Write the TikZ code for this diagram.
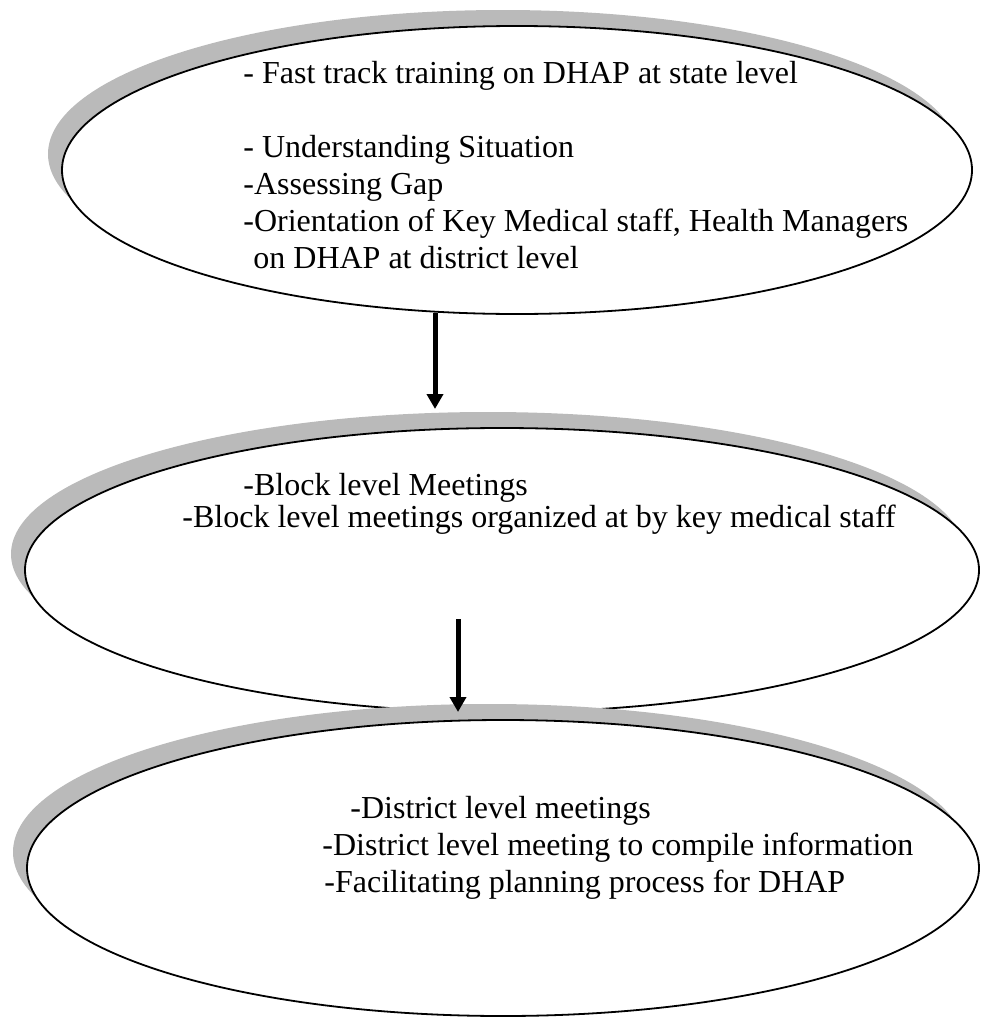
\documentclass[tikz,border=0pt]{standalone}
\usepackage{fontspec}
\setmainfont{Liberation Serif}
\usetikzlibrary{shapes.geometric,shadows,arrows.meta}
\tikzset{
  stage/.style={ellipse,draw,line width=0.9pt,fill=white,inner sep=0pt,
    drop shadow={shadow xshift=-7pt,shadow yshift=8pt,fill=black!27,opacity=1}},
  note/.style={anchor=base west,align=left,inner sep=0pt,
    font=\fontsize{16pt}{18.4pt}\selectfont},
  flow/.style={line width=2.5pt,-{Triangle[width=8pt,length=7.5pt]}}
}
\begin{document}
\begin{tikzpicture}[x=0.5pt,y=-0.5pt]
  \useasboundingbox (0,0) rectangle (980,1017);
  % the three stages
  \node[stage,minimum width=455pt,minimum height=144pt] (e1) at (517,170) {};
  \node[stage,minimum width=477pt,minimum height=142pt] (e2) at (502,570) {};
  \node[stage,minimum width=476pt,minimum height=148pt] (e3) at (503,868) {};
  % texts, placed by the baseline of their last line
  \node[note] (t1) at (243,268) {- Fast track training on DHAP at state level\\[18.6pt]
    - Understanding Situation\\
    -Assessing Gap\\
    -Orientation of Key Medical staff, Health Managers\\
    \hspace*{5pt}on DHAP at district level};
  \node[note] (t2) at (182,527) {\hspace*{30.5pt}-Block level Meetings\\[-2.4pt]
    -Block level meetings organized at by key medical staff};
  \node[note] (t3) at (322,892) {\hspace*{14pt}-District level meetings\\
    -District level meeting to compile information\\
    \hspace*{1pt}-Facilitating planning process for DHAP};
  % arrows between stages
  \coordinate (a1) at (435,313);
  \coordinate (b1) at (435,409);
  \coordinate (a2) at (458,619);
  \coordinate (b2) at (458,712);
  \draw[flow] (a1) -- (b1);
  \draw[flow] (a2) -- (b2);
\end{tikzpicture}
\end{document}
